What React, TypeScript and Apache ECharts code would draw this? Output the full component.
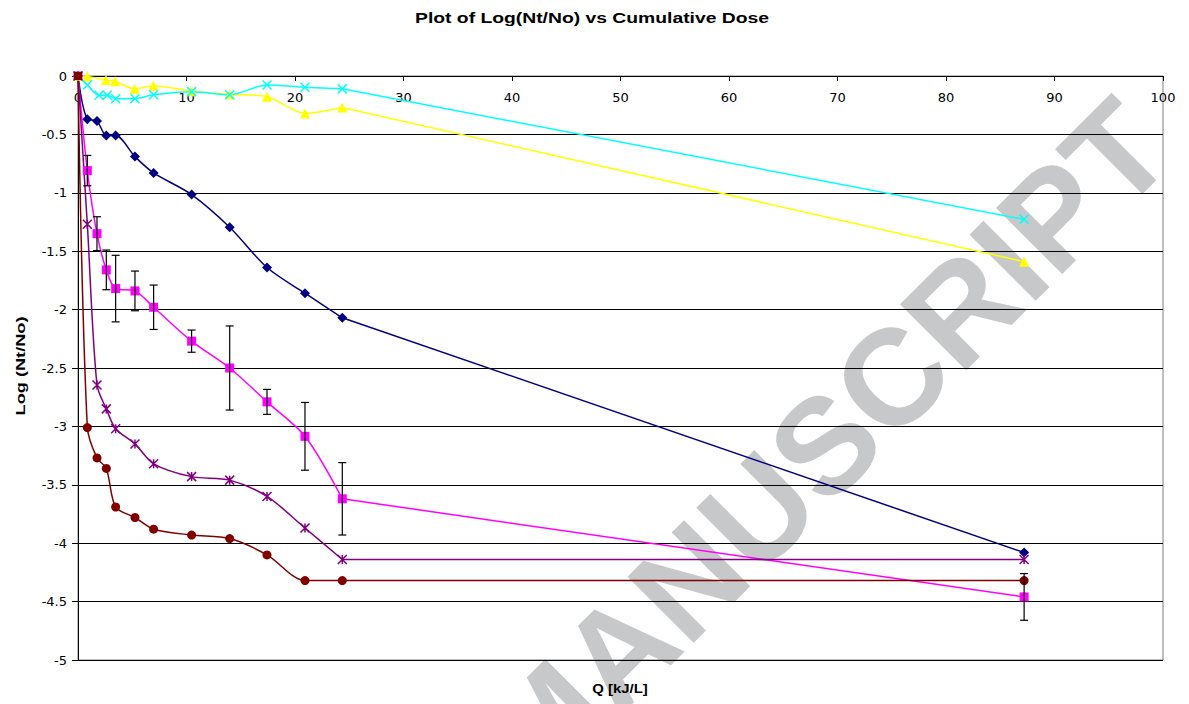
import React, { useEffect, useRef } from "react";
import * as echarts from "echarts";

// ---- data ----
const doseX = [0, 0.86, 1.75, 2.61, 3.47, 5.25, 6.97, 10.47, 13.98, 17.42, 20.92, 24.36, 87.2];
const navyY = [0, -0.37, -0.385, -0.51, -0.51, -0.69, -0.83, -1.015, -1.295, -1.64, -1.86, -2.07, -4.08];
const magentaY = [0, -0.81, -1.35, -1.66, -1.82, -1.84, -1.98, -2.27, -2.5, -2.79, -3.085, -3.62, -4.46];
const magentaErr = [0, 0.13, 0.145, 0.17, 0.285, 0.17, 0.19, 0.095, 0.36, 0.107, 0.29, 0.31, 0.2];
const purpleY = [0, -1.27, -2.645, -2.85, -3.02, -3.15, -3.32, -3.43, -3.46, -3.6, -3.87, -4.14, -4.14];
const darkRedY = [0, -3.01, -3.27, -3.36, -3.69, -3.78, -3.88, -3.93, -3.96, -4.1, -4.32, -4.32, -4.32];

const yellowX = [0, 0.86, 2.58, 3.42, 5.22, 6.94, 10.47, 13.98, 17.42, 20.92, 24.36, 87.2];
const yellowY = [0, -0.005, -0.034, -0.045, -0.109, -0.083, -0.13, -0.157, -0.177, -0.32, -0.27, -1.59];

const cyanX = [0, 0.86, 1.94, 2.7, 3.47, 5.25, 6.97, 10.47, 13.98, 17.42, 20.92, 24.36, 87.2];
const cyanY = [0, -0.077, -0.165, -0.165, -0.194, -0.194, -0.16, -0.134, -0.16, -0.077, -0.097, -0.11, -1.227];

const xTicks = { min: 0, max: 100, interval: 10 };
const yTicks = { min: -5, max: 0, interval: 0.5 };

const titleText = "Plot of Log(Nt/No) vs Cumulative Dose";
const xName = "Q [kJ/L]";
const yName = "Log (Nt/No)";
const watermark = "MANUSCRIPT";

const FONT = "'Liberation Sans', Arial, sans-serif";
const TICK_FONT = "'DejaVu Sans', 'Liberation Sans', sans-serif";
const X_SYM = "path://M0,0 L10,10 M10,0 L0,10";
const STAR_SYM = "path://M0,0 L10,10 M10,0 L0,10 M5,0 L5,10";

function pairs(xs: number[], ys: number[]) {
  return xs.map((x, i) => [x, ys[i]]);
}

export default function App() {
  const ref = useRef<HTMLDivElement>(null);
  useEffect(() => {
    if (!ref.current) return;
    const chart = echarts.init(ref.current, null, { renderer: "svg" });

    const makeSeries = (
      name: string,
      xs: number[],
      ys: number[],
      color: string,
      symbol: string,
      size: number,
      firstSymbol?: string
    ) => {
      const pts = pairs(xs, ys);
      const n = pts.length;
      const itemStyle = { color, borderColor: color, borderWidth: symbol.startsWith("path") ? 1.5 : 0 };
      const head: any[] = pts.slice(0, n - 1).map((p, i) =>
        i === 0 && firstSymbol ? { value: p, symbol: firstSymbol, symbolSize: 8 } : p
      );
      const tail: any[] = [{ value: pts[n - 2], symbol: "none" }, pts[n - 1]];
      return [
        {
          name,
          type: "line",
          data: head,
          smooth: 0.3,
          symbol,
          symbolSize: size,
          showSymbol: true,
          lineStyle: { color, width: 1.5 },
          itemStyle,
          z: 3,
        },
        {
          name,
          type: "line",
          data: tail,
          smooth: false,
          symbol,
          symbolSize: size,
          showSymbol: true,
          lineStyle: { color, width: 1.5 },
          itemStyle,
          z: 3,
        },
      ];
    };

    const errData = doseX
      .map((x, i) => [x, magentaY[i], magentaY[i] + magentaErr[i], magentaY[i] - magentaErr[i]])
      .filter((d, i) => magentaErr[i] > 0);

    chart.setOption({
      animation: false,
      backgroundColor: "#ffffff",
      graphic: [
        {
          type: "text",
          x: 825,
          y: 445,
          rotation: Math.PI / 4,
          z: -10,
          silent: true,
          style: {
            text: watermark,
            fontFamily: FONT,
            fontWeight: "bold",
            fontSize: 136,
            fill: "#c7c8c9",
            textAlign: "center",
            textVerticalAlign: "middle",
          },
        },
        {
          type: "text",
          x: 592,
          y: 18,
          scaleX: 1.38,
          style: {
            text: titleText,
            fontFamily: FONT,
            fontWeight: "bold",
            fontSize: 14,
            fill: "#000",
            textAlign: "center",
            textVerticalAlign: "middle",
          },
        },
        {
          type: "text",
          x: 620,
          y: 688,
          scaleX: 1.15,
          style: {
            text: xName,
            fontFamily: FONT,
            fontWeight: "bold",
            fontSize: 13,
            fill: "#000",
            textAlign: "center",
            textVerticalAlign: "middle",
          },
        },
        {
          type: "text",
          x: 20,
          y: 366,
          rotation: Math.PI / 2,
          scaleX: 1.4,
          style: {
            text: yName,
            fontFamily: FONT,
            fontWeight: "bold",
            fontSize: 13,
            fill: "#000",
            textAlign: "center",
            textVerticalAlign: "middle",
          },
        },
      ],
      grid: {
        left: 78,
        top: 76,
        width: 1085,
        height: 584,
        show: true,
        borderColor: "#808080",
        borderWidth: 1,
        backgroundColor: "transparent",
      },
      xAxis: {
        type: "value",
        position: "top",
        min: xTicks.min,
        max: xTicks.max,
        interval: xTicks.interval,
        axisLine: { show: true, onZero: false, lineStyle: { color: "#000", width: 1 } },
        axisTick: { show: true, inside: true, length: 5, lineStyle: { color: "#000" } },
        axisLabel: { inside: true, margin: 15, fontFamily: TICK_FONT, fontSize: 13, color: "#000" },
        splitLine: { show: false },
      },
      yAxis: {
        type: "value",
        min: yTicks.min,
        max: yTicks.max,
        interval: yTicks.interval,
        axisLine: { show: true, lineStyle: { color: "#000", width: 1 } },
        axisTick: { show: true, length: 6, lineStyle: { color: "#000" } },
        axisLabel: { margin: 11, fontFamily: TICK_FONT, fontSize: 13, color: "#000" },
        splitLine: { show: true, lineStyle: { color: "#000", width: 1 } },
      },
      series: [
        ...makeSeries("Series 1", doseX, navyY, "#000080", "diamond", 10),
        ...makeSeries("Series 2", doseX, magentaY, "#FF00FF", "rect", 9),
        ...makeSeries("Series 3", yellowX, yellowY, "#FFFF00", "triangle", 10),
        ...makeSeries("Series 4", cyanX, cyanY, "#00FFFF", X_SYM, 9),
        ...makeSeries("Series 5", doseX, purpleY, "#800080", STAR_SYM, 9),
        ...makeSeries("Series 6", doseX, darkRedY, "#800000", "circle", 9, "rect"),
        {
          type: "custom",
          name: "err",
          z: 10,
          silent: true,
          data: errData,
          encode: { x: 0, y: [1, 2, 3] },
          renderItem: (params: any, api: any) => {
            const x = api.value(0);
            const hi = api.coord([x, api.value(2)]);
            const lo = api.coord([x, api.value(3)]);
            const w = 4;
            const st = { stroke: "#000", lineWidth: 1.2 };
            return {
              type: "group",
              children: [
                { type: "line", shape: { x1: hi[0], y1: hi[1], x2: lo[0], y2: lo[1] }, style: st },
                { type: "line", shape: { x1: hi[0] - w, y1: hi[1], x2: hi[0] + w, y2: hi[1] }, style: st },
                { type: "line", shape: { x1: lo[0] - w, y1: lo[1], x2: lo[0] + w, y2: lo[1] }, style: st },
              ],
            };
          },
        },
      ],
    });
    return () => chart.dispose();
  }, []);
  return (
    <div
      ref={ref}
      style={{ position: "fixed", left: 0, top: 0, width: 1189, height: 704, background: "#fff" }}
    />
  );
}
